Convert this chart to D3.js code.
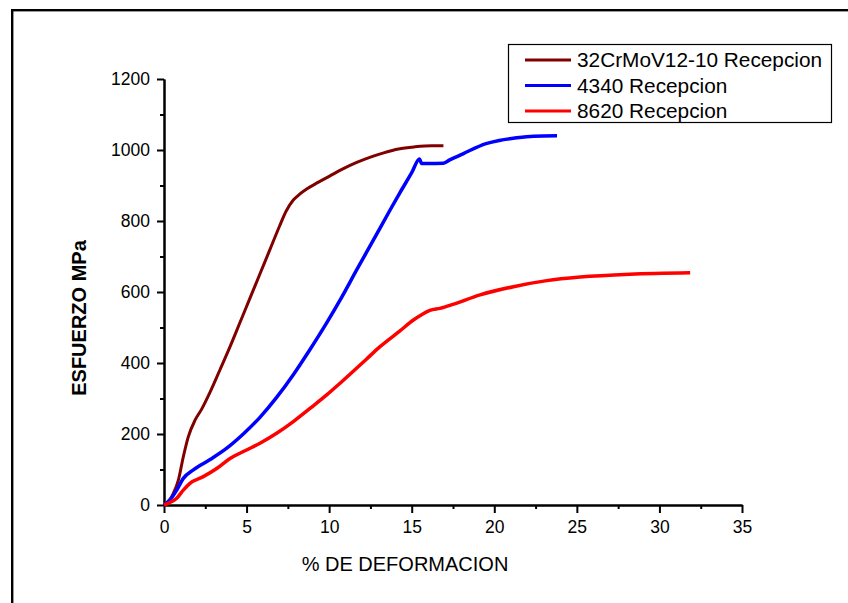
<!DOCTYPE html>
<html>
<head>
<meta charset="utf-8">
<script src="https://cdn.jsdelivr.net/npm/d3@7"></script>
<style>
  body { margin: 0; background: #fff; }
  svg { display: block; font-family: "Liberation Sans", Arial, sans-serif; }
</style>
</head>
<body>
<div id="graf"></div>
<script>
// datos
series = ['32CrMoV12-10 Recepcion', '4340 Recepcion', '8620 Recepcion']
colores = ['#800000', '#0000ff', '#ff0000']

def32 = [0, 0.3, 0.57, 0.87, 1.17, 1.47, 1.88, 2.28, 2.79, 3.39, 4.0, 4.6, 5.2, 5.8, 6.4, 7.0, 7.4, 7.83, 8.2, 8.64, 9.3, 10.05, 10.8, 11.67, 12.5, 13.3, 14.2, 15.2, 16.2, 16.92]
esf32 = [0, 12, 33, 70, 136, 192, 239, 270, 318, 381, 446, 514, 582, 650, 718, 786, 828, 859, 875, 890, 908, 927, 946, 965, 980, 992, 1003, 1009, 1012, 1012]

def4340 = [0, 0.36, 0.77, 1.17, 1.78, 2.79, 3.8, 4.8, 5.81, 6.82, 7.83, 8.84, 9.85, 10.66, 11.7, 12.7, 13.69, 14.29, 15.0, 15.47, 15.6, 16.0, 16.92, 17.3, 18.13, 19.5, 20.3, 21.16, 22.37, 23.8]
esf4340 = [0, 14, 42, 75, 99, 128, 160, 200, 247, 303, 367, 438, 513, 577, 665, 748, 831, 880, 936, 975, 962, 962, 963, 972, 990, 1018, 1027, 1033, 1039, 1040]

def8620 = [0, 0.36, 0.77, 1.17, 1.57, 2.38, 3.19, 4.0, 5.0, 5.81, 6.82, 7.83, 8.84, 9.85, 10.66, 12.24, 13.08, 14.25, 15.1, 15.6, 16.1, 16.72, 17.5, 19.14, 21.16, 23.18, 25.2, 28.2, 31.86]
esf8620 = [0, 7, 19, 42, 61, 80, 103, 131, 155, 174, 202, 235, 272, 310, 343, 410, 446, 489, 521, 536, 548, 554, 565, 592, 615, 632, 642, 650, 654]

xTicks = [0, 5, 10, 15, 20, 25, 30, 35]
yTicks = [0, 200, 400, 600, 800, 1000, 1200]

ancho_total = 848
alto_total = 603

svg = d3.select('#graf').append('svg')
        .attr('width', ancho_total)
        .attr('height', alto_total)

// marco exterior (solo se ven arriba e izquierda)
svg.append('rect')
        .attr('x', 12.2).attr('y', 10.2)
        .attr('width', 900).attr('height', 700)
        .attr('fill', 'none')
        .attr('stroke', '#000')
        .attr('stroke-width', 2.4)

//Escaladores
x = d3.scaleLinear().domain([0, 35]).range([164, 742])
y = d3.scaleLinear().domain([0, 1200]).range([505, 79])

// ejes
xAxisGroup = svg.append('g')
        .attr('transform', `translate(0, ${y(0)})`)
        .attr('class', 'eje')
xAxisGroup.call(d3.axisBottom(x).tickValues(xTicks).tickFormat(d3.format('d')).tickSize(8).tickPadding(8).tickSizeOuter(0))

xMinor = svg.append('g')
        .attr('transform', `translate(0, ${y(0)})`)
xMinor.call(d3.axisBottom(x).tickValues(d3.range(2.5, 35, 5)).tickSize(4).tickFormat('').tickSizeOuter(0))

yAxisGroup = svg.append('g')
        .attr('transform', `translate(${x(0)}, 0)`)
        .attr('class', 'eje')
yAxisGroup.call(d3.axisLeft(y).tickValues(yTicks).tickFormat(d3.format('d')).tickSize(7).tickPadding(7).tickSizeOuter(0))

yMinor = svg.append('g')
        .attr('transform', `translate(${x(0)}, 0)`)
yMinor.call(d3.axisLeft(y).tickValues(d3.range(100, 1200, 200)).tickSize(4).tickFormat('').tickSizeOuter(0))

svg.selectAll('.domain, .tick line')
        .attr('stroke', '#000')
        .attr('stroke-width', 2)
svg.selectAll('.eje text')
        .attr('fill', '#000')
        .style('font-size', '17.5px')
        .style('font-family', '"Liberation Sans", Arial, sans-serif')

// titulos
svg.append('text')
        .attr('x', 405).attr('y', 571)
        .attr('text-anchor', 'middle')
        .style('font-size', '20px')
        .text('% DE DEFORMACION')

svg.append('text')
        .attr('transform', 'translate(86, 318) rotate(-90)')
        .attr('text-anchor', 'middle')
        .style('font-size', '20px')
        .style('font-weight', 'bold')
        .text('ESFUERZO MPa')

// curvas
datos = [
        d3.zip(def32, esf32),
        d3.zip(def4340, esf4340),
        d3.zip(def8620, esf8620)
]

valueline = d3.line()
        .x(d => x(d[0]))
        .y(d => y(d[1]))
        .curve(d3.curveMonotoneX)

svg.selectAll('path.line')
        .data(datos)
        .enter()
        .append('path')
        .attr('class', 'line')
        .attr('fill', 'none')
        .attr('stroke', (d, i) => colores[i])
        .attr('stroke-width', (d, i) => i == 0 ? 3 : 3.5)
        .attr('stroke-linejoin', 'round')
        .attr('d', valueline)

// leyenda
legend = svg.append('g')
legend.append('rect')
        .attr('x', 508.5).attr('y', 44.5)
        .attr('width', 323).attr('height', 78)
        .attr('fill', '#fff')
        .attr('stroke', '#000')
        .attr('stroke-width', 1.2)

series.forEach((s, i) => {
        yy = 60 + i * 25.5
        legend.append('line')
                .attr('x1', 525).attr('x2', 571)
                .attr('y1', yy).attr('y2', yy)
                .attr('stroke', colores[i])
                .attr('stroke-width', 3)
        legend.append('text')
                .attr('x', 577).attr('y', yy + 7)
                .style('font-size', '20.8px')
                .text(s)
})
</script>
</body>
</html>
